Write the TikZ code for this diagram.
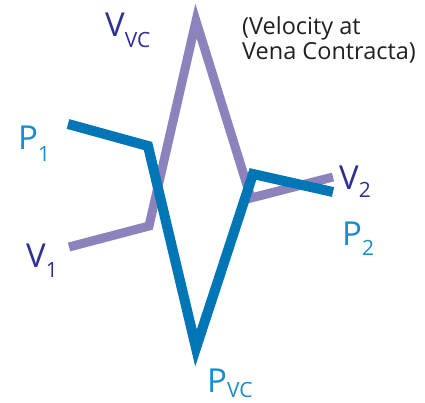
\documentclass[tikz,border=0pt]{standalone}
\usepackage{fontspec}
\setmainfont{Open Sans}
\usetikzlibrary{positioning}
\definecolor{vline}{HTML}{8C82BC}
\definecolor{pline}{HTML}{0076B6}
\definecolor{vtext}{HTML}{2E3092}
\definecolor{ptext}{HTML}{1B8BCF}
\definecolor{note}{HTML}{231F20}
\newcommand{\idx}[2][10pt]{\raisebox{-#1}{\fontsize{21}{21}\selectfont #2}}

\begin{document}
\begin{tikzpicture}[x=1pt,y=-1pt,
  lbl/.style={anchor=base west,inner sep=0pt,font=\fontsize{33}{33}\selectfont},
  vel/.style={draw=vline,line width=9pt},
  pres/.style={draw=pline,line width=10pt}]
  \useasboundingbox (0,0) rectangle (425,403);
  % velocity profile
  \coordinate (v1) at (69,247);
  \coordinate (v1b) at (149,226);
  \coordinate (vvc) at (196,21);
  \coordinate (v2a) at (251,198);
  \coordinate (v2) at (333,177);
  % pressure profile
  \coordinate (p1) at (68,124);
  \coordinate (p1b) at (148,146);
  \coordinate (pvc) at (196,348);
  \coordinate (p2a) at (253,174);
  \coordinate (p2) at (333,192);
  \draw[vel] (v1)--(v1b)--(vvc)--(v2a)--(v2);
  \draw[pres] (p1)--(p1b)--(pvc)--(p2a)--(p2);
  % labels
  \node[lbl,text=vtext] (lvvc) at (105,37) {V\idx[11pt]{VC}};
  \node[lbl,text=ptext] (lp1) at (18,150) {P\idx[12pt]{1}};
  \node[lbl,text=vtext] (lv1) at (26,267) {V\idx{1}};
  \node[lbl,text=vtext] (lv2) at (339,190) {V\idx[8pt]{2}};
  \node[lbl,text=ptext] (lp2) at (342,245) {P\idx{2}};
  \node[lbl,text=ptext] (lpvc) at (207,392) {P\idx[5pt]{VC}};
  \node[anchor=base west,inner sep=0pt,align=left,text=note,
    font=\fontsize{23.5}{25}\selectfont] (note) at (242,60)
    {(Velocity at\\Vena Contracta)};
\end{tikzpicture}
\end{document}
